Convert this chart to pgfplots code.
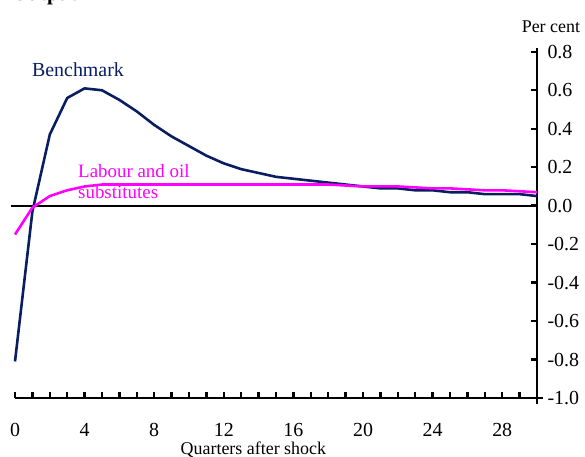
\documentclass[border=0pt]{standalone}
\usepackage{fontspec}
\setmainfont{Liberation Serif}
\usepackage{pgfplots}
\pgfplotsset{compat=1.18}
\definecolor{navy}{RGB}{8,30,96}
\definecolor{mag}{RGB}{255,0,255}

% Impulse responses, per cent, by quarter after the shock
\pgfplotstableread{
q   val
0  -0.81
1  -0.03
2   0.37
3   0.56
4   0.61
5   0.60
6   0.55
7   0.49
8   0.42
9   0.36
10  0.31
11  0.26
12  0.22
13  0.19
14  0.17
15  0.15
16  0.14
17  0.13
18  0.12
19  0.11
20  0.10
21  0.09
22  0.09
23  0.08
24  0.08
25  0.07
26  0.07
27  0.06
28  0.06
29  0.06
30  0.05
}\benchmark

\pgfplotstableread{
q   val
0  -0.15
1  -0.01
2   0.05
3   0.08
4   0.10
5   0.11
6   0.11
7   0.11
8   0.11
9   0.11
10  0.11
11  0.11
12  0.11
13  0.11
14  0.11
15  0.11
16  0.11
17  0.11
18  0.11
19  0.105
20  0.10
21  0.10
22  0.10
23  0.095
24  0.09
25  0.09
26  0.085
27  0.08
28  0.08
29  0.075
30  0.07
}\laboursubs

\begin{document}
\begin{tikzpicture}[x=1bp,y=1bp]
\path[use as bounding box] (-15,-59) rectangle (570,398);
\node[anchor=base west,font=\bfseries\fontsize{21}{21}\selectfont,inner sep=0pt] at (-3,397) {Output};
\begin{axis}[
  scale only axis,
  width=522bp, height=350bp,
  xmin=0, xmax=30,
  ymin=-1.0, ymax=0.82,
  axis x line*=bottom,
  axis y line*=right,
  axis line style={line width=2.4pt, -},
  every outer x axis line/.append style={line width=2.4pt, -},
  every outer y axis line/.append style={line width=2.4pt, -},
  tick align=inside,
  xtick={0,4,...,28},
  minor xtick={0,...,30},
  ytick={-1.0,-0.8,...,0.81},
  major tick length=6bp,
  minor tick length=6bp,
  tick style={line width=2.4pt, black},
  /pgf/number format/assume math mode=true,
  yticklabel={\pgfmathprintnumber[fixed,fixed zerofill,precision=1]{\tick}},
  ticklabel style={font=\fontsize{20}{20}\selectfont},
  xticklabel style={yshift=-22bp},
  yticklabel style={xshift=7bp},
  clip=false,
]
% zero line and the two axis rules
\draw[black, line width=2pt] (axis cs:-0.25,0) -- (axis cs:30,0);
\draw[black, line width=2.6pt] (axis cs:0,-1.0) -- (axis cs:30,-1.0);
\draw[black, line width=2.6pt] (axis cs:30,-1.03) -- (axis cs:30,0.82);
\draw[black, line width=2.4pt] (axis cs:30,-1.0) -- (axis cs:30.35,-1.0);
\addplot[navy, line width=2.6pt, line join=round] table[x=q,y=val] {\benchmark};
\addplot[mag, line width=2.6pt, line join=round] table[x=q,y=val] {\laboursubs};
\node[navy, font=\fontsize{20}{20}\selectfont] at (axis cs:3.62,0.706) {Benchmark};
\node[mag, font=\fontsize{19}{19}\selectfont, anchor=base west, inner sep=0pt]
  at (axis cs:3.62,0.149) {Labour and oil};
\node[mag, font=\fontsize{19}{19}\selectfont, anchor=base west, inner sep=0pt]
  at (axis cs:3.62,0.037) {substitutes};
\node[font=\fontsize{18}{18}\selectfont, anchor=base] at (axis cs:30.8,0.90) {Per cent};
\node[font=\fontsize{18}{18}\selectfont, anchor=base] at (axis cs:13.7,-1.293) {Quarters after shock};
\end{axis}
\end{tikzpicture}
\end{document}
